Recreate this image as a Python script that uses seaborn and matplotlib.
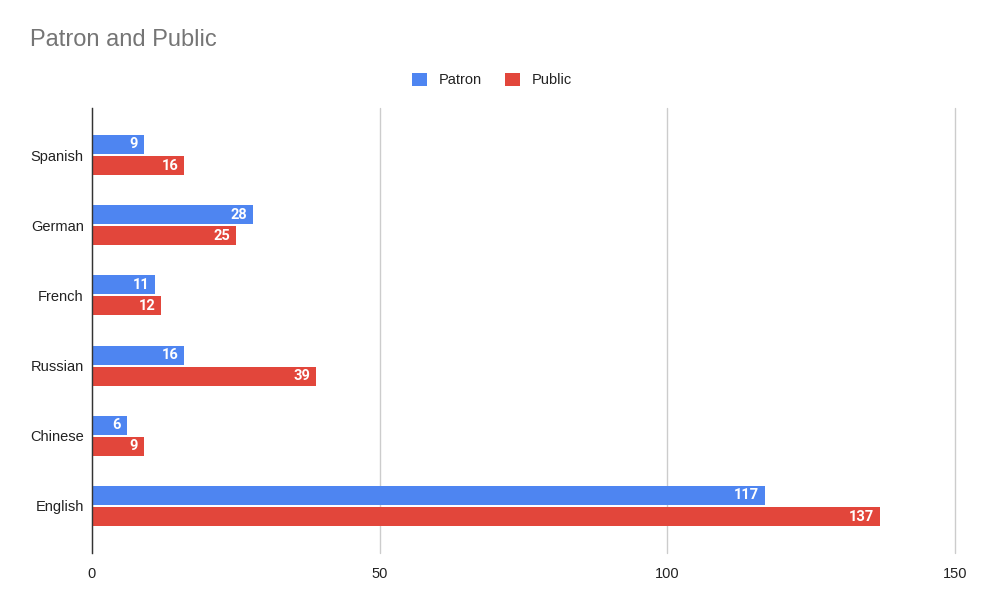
import matplotlib
matplotlib.use("Agg")
import matplotlib.pyplot as plt
import seaborn as sns
import pandas as pd
from matplotlib.patches import Patch

languages = ["Spanish", "German", "French", "Russian", "Chinese", "English"]
patron = [9, 28, 11, 16, 6, 117]
public = [16, 25, 12, 39, 9, 137]
series_names = ["Patron", "Public"]
x_ticks = [0, 50, 100, 150]

df = pd.DataFrame({
    "lang": languages * 2,
    "value": patron + public,
    "series": [series_names[0]] * len(languages) + [series_names[1]] * len(languages),
})

sns.set_theme(style="white")
plt.rcParams["font.family"] = ["Liberation Sans", "DejaVu Sans"]

fig = plt.figure(figsize=(9.83, 6.06), dpi=100)
ax = fig.add_axes([92 / 983, 1 - 553 / 606, (955 - 92) / 983, (553 - 108) / 606])

palette = {"Patron": "#4e85f1", "Public": "#e2463b"}
sns.barplot(data=df, y="lang", x="value", hue="series", order=languages,
            hue_order=series_names, palette=palette, width=0.6, gap=0.1,
            orient="h", ax=ax, legend=False, saturation=1, linewidth=0)

for p in ax.patches:
    w = p.get_width()
    if w <= 0:
        continue
    y = p.get_y() + p.get_height() / 2
    ax.text(w - 1.0, y, f"{int(round(w))}", ha="right", va="center",
            color="white", fontsize=10.5, fontweight="bold",
            family=["Roboto", "DejaVu Sans"])

ax.set_xlim(0, 150)
ax.set_ylim(5.67, -0.67)
ax.set_xticks(x_ticks)
ax.set_xticklabels([str(t) for t in x_ticks], fontsize=10.5, color="#222222")
ax.tick_params(axis="y", labelsize=10.5, colors="#222222", length=0, pad=6)
ax.tick_params(axis="x", length=0, pad=10)
ax.set_xlabel("")
ax.set_ylabel("")
ax.grid(axis="x", color="#cccccc", linewidth=1)
for gl in ax.get_xgridlines():
    gl.set_clip_on(False)
ax.set_axisbelow(True)
for s in ["top", "right", "bottom"]:
    ax.spines[s].set_visible(False)
ax.spines["left"].set_color("#333333")
ax.spines["left"].set_linewidth(1)
ax.spines["left"].set_zorder(5)

fig.text(30 / 983, 1 - 40 / 606, "Patron and Public", fontsize=17,
         color="#757575", va="center", ha="left")

handles = [Patch(facecolor=palette[n], edgecolor="none") for n in series_names]
fig.legend(handles, series_names, loc="center", bbox_to_anchor=(492 / 983, 1 - 80 / 606),
           ncol=2, frameon=False, fontsize=10.5, handlelength=1.0, handleheight=1.0,
           handletextpad=0.8, columnspacing=1.6, labelcolor="#222222")

fig.savefig("out.png", dpi=100)
